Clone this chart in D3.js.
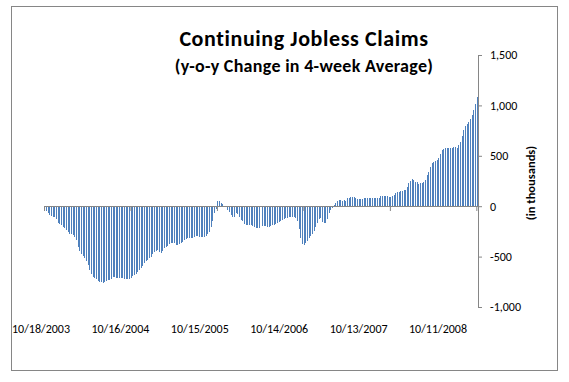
<!DOCTYPE html>
<html lang="en">

<head>
    <meta charset="UTF-8">
    <script src="https://d3js.org/d3.v7.min.js"></script>
    <title>Continuing Jobless Claims</title>
    <style>
        body { margin: 0; background: #fff; }
        text { font-family: Calibri, Carlito, Lato, sans-serif; }
    </style>
</head>

<body>
    <svg class="chart"></svg>
    <script>
        // weekly y-o-y change in 4-week average, thousands, starting 10/18/2003
        var startDate = new Date(2003, 9, 18);
        var values = [
            -30, -45, -70, -88, -100, -112, -106, -130, -165, -172,
            -185, -210, -215, -240, -260, -275, -280, -288, -310, -335,
            -400, -448, -470, -490, -515, -540, -585, -635, -675, -705,
            -712, -722, -740, -750, -755, -757, -753, -745, -734, -730,
            -720, -703, -705, -708, -708, -713, -717, -717, -719, -722,
            -726, -727, -712, -695, -680, -670, -655, -635, -612, -590,
            -565, -545, -533, -518, -500, -478, -456, -442, -437, -455,
            -465, -445, -415, -407, -395, -375, -366, -363, -368, -380,
            -387, -378, -368, -352, -335, -325, -318, -314, -316, -315,
            -305, -300, -297, -303, -310, -310, -302, -295, -280, -255,
            -210, -145, -65, -25, 48, 50, 35, 18, 2, -10,
            -35, -55, -90, -112, -105, -70, -82, -110, -135, -150,
            -180, -185, -182, -182, -188, -198, -208, -212, -213, -212,
            -203, -198, -195, -199, -204, -203, -198, -191, -185, -177,
            -168, -158, -145, -140, -131, -122, -113, -108, -106, -106,
            -110, -118, -150, -230, -320, -372, -380, -365, -342, -314,
            -298, -275, -245, -205, -170, -128, -113, -160, -170, -162,
            -130, -72, -38, -18, 10, 35, 52, 60, 65, 55,
            60, 55, 78, 85, 95, 95, 90, 82, 76, 75,
            70, 76, 83, 86, 86, 86, 82, 80, 80, 80,
            81, 86, 106, 106, 106, 101, 97, 94, 95, 104,
            116, 130, 137, 142, 146, 148, 156, 160, 190, 228,
            252, 266, 262, 238, 242, 220, 234, 235, 240, 258,
            305, 340, 385, 425, 440, 450, 460, 480, 515, 553,
            570, 579, 582, 582, 582, 576, 588, 592, 580, 610,
            640, 695, 760, 800, 817, 840, 868, 905, 950, 1010,
            1080
        ];
        var tickLabels = ["10/18/2003", "10/16/2004", "10/15/2005", "10/14/2006", "10/13/2007", "10/11/2008"];
        var tickEvery = 52; // one label per year of weeks
        var yTicks = [-1000, -500, 0, 500, 1000, 1500];

        var dates = values.map(function(v, i) {
            return d3.timeWeek.offset(startDate, i);
        });

        var width = 569,
            height = 382;
        var plotLeft = 44,
            plotRight = 478,
            plotTop = 55,
            plotBottom = 307;
        var axisColor = "#868686";

        var svg = d3.select(".chart")
            .attr("width", width)
            .attr("height", height);

        // outer frame
        svg.append("rect")
            .attr("x", 11.5)
            .attr("y", 6.5)
            .attr("width", 546)
            .attr("height", 364)
            .attr("fill", "none")
            .attr("stroke", axisColor);

        var x = d3.scaleBand()
            .domain(dates)
            .range([plotLeft, plotRight])
            .paddingInner(0.4)
            .paddingOuter(0.2);

        var xEdge = d3.scaleLinear()
            .domain([0, values.length])
            .range([plotLeft, plotRight]);

        var y = d3.scaleLinear()
            .domain([-1000, 1500])
            .range([plotBottom, plotTop]);

        svg.append("g")
            .attr("shape-rendering", "crispEdges")
            .selectAll("rect")
            .data(values)
            .enter()
            .append("rect")
            .attr("x", function(d, i) { return x(dates[i]); })
            .attr("width", x.bandwidth())
            .attr("y", function(d) { return y(Math.max(0, d)); })
            .attr("height", function(d) { return Math.abs(y(d) - y(0)); })
            .attr("fill", "#4F81BD");

        // category axis at zero
        var xAxis = svg.append("g")
            .attr("transform", "translate(0," + Math.round(y(0)) + ")")
            .call(d3.axisBottom(xEdge)
                .tickValues(d3.range(0, values.length, tickEvery))
                .tickSize(5)
                .tickSizeOuter(0)
                .tickFormat(""));
        xAxis.selectAll("path, line").attr("stroke", axisColor);

        // date labels sit under the plot
        var labelPos = d3.scalePoint()
            .domain(tickLabels)
            .range([41, 438]);

        svg.append("g")
            .selectAll("text")
            .data(tickLabels)
            .enter()
            .append("text")
            .attr("x", function(d) { return labelPos(d); })
            .attr("y", 333)
            .attr("text-anchor", "middle")
            .attr("font-size", 12)
            .attr("fill", "#000")
            .text(function(d) { return d; });

        // value axis on the right
        var yAxis = svg.append("g")
            .attr("transform", "translate(" + plotRight + ",0)")
            .call(d3.axisRight(y)
                .tickValues(yTicks)
                .tickSize(4)
                .tickSizeOuter(0)
                .tickPadding(8)
                .tickFormat(function(d) { return d3.format(",")(d).replace("\u2212", "-"); }));
        yAxis.selectAll("path, line").attr("stroke", axisColor);
        yAxis.selectAll("text")
            .attr("font-size", 12)
            .attr("fill", "#000")
            .style("font-family", "Calibri, Carlito, Lato, sans-serif");

        svg.append("text")
            .attr("transform", "translate(535,183) rotate(-90)")
            .attr("text-anchor", "middle")
            .attr("font-size", 12.5)
            .attr("font-weight", "bold")
            .text("(in thousands)");

        svg.append("text")
            .attr("x", 304)
            .attr("y", 46)
            .attr("text-anchor", "middle")
            .attr("font-size", 22)
            .attr("letter-spacing", 0.6)
            .attr("font-weight", "bold")
            .text("Continuing Jobless Claims");

        svg.append("text")
            .attr("x", 304)
            .attr("y", 72)
            .attr("text-anchor", "middle")
            .attr("font-size", 18)
            .attr("letter-spacing", 0.3)
            .attr("font-weight", "bold")
            .text("(y-o-y Change in 4-week Average)");
    </script>
</body>

</html>
